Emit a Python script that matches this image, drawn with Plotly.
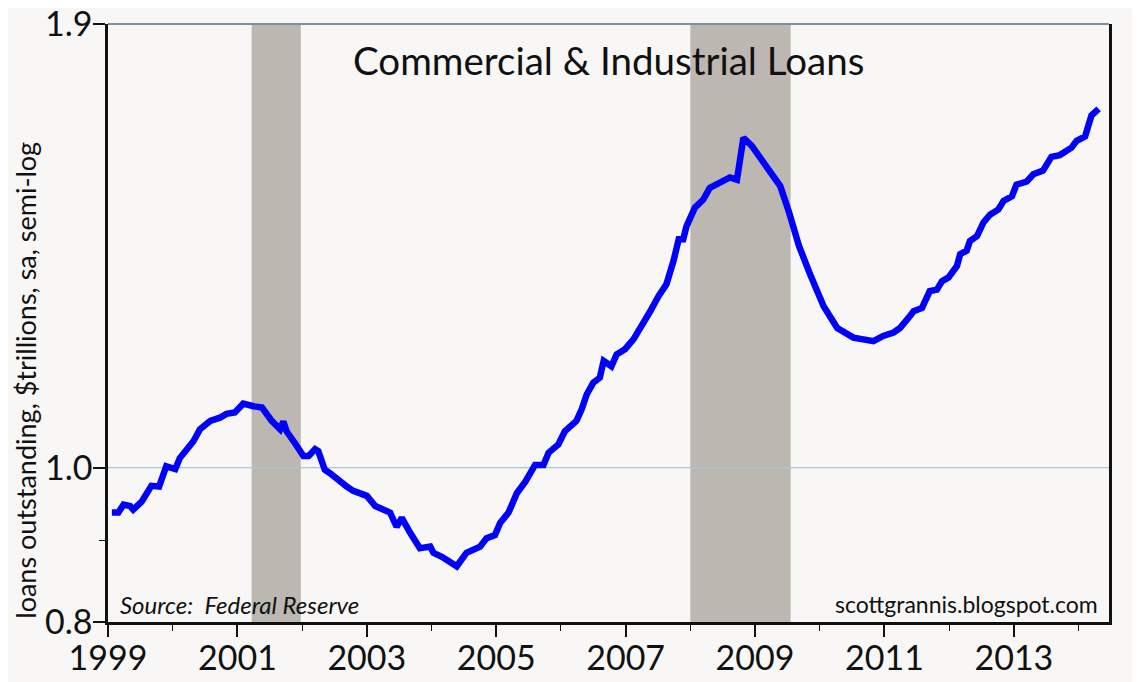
import numpy as np
import plotly.graph_objects as go

# C&I loans outstanding, $ trillions, decimal years
years = [
    1999.06, 1999.16, 1999.24, 1999.34, 1999.39, 1999.52, 1999.67, 1999.79, 1999.90,
    2000.04, 2000.11, 2000.22, 2000.32, 2000.42, 2000.58, 2000.73, 2000.83, 2000.96,
    2001.09, 2001.25, 2001.38, 2001.53, 2001.66, 2001.71, 2001.76, 2001.89,
    2002.02, 2002.10, 2002.20, 2002.25, 2002.35, 2002.43, 2002.53, 2002.69, 2002.79, 2002.92,
    2003.00, 2003.13, 2003.28, 2003.36, 2003.46, 2003.54, 2003.67, 2003.82, 2003.98,
    2004.03, 2004.16, 2004.29, 2004.39, 2004.54, 2004.75, 2004.85, 2004.98,
    2005.06, 2005.19, 2005.32, 2005.45, 2005.60, 2005.73, 2005.81, 2005.96,
    2006.06, 2006.24, 2006.32, 2006.40, 2006.50, 2006.60, 2006.66, 2006.78, 2006.86, 2006.99,
    2007.12, 2007.22, 2007.38, 2007.51, 2007.63, 2007.74, 2007.82, 2007.89, 2007.94,
    2008.07, 2008.20, 2008.30, 2008.46, 2008.61, 2008.72, 2008.82, 2008.95,
    2009.08, 2009.23, 2009.39, 2009.53, 2009.68, 2009.85,
    2010.06, 2010.27, 2010.52, 2010.83, 2010.98,
    2011.14, 2011.24, 2011.37, 2011.45, 2011.58, 2011.70, 2011.81, 2011.89, 2011.99,
    2012.12, 2012.17, 2012.27, 2012.32, 2012.43, 2012.53, 2012.63, 2012.76, 2012.84, 2012.97,
    2013.04, 2013.20, 2013.30, 2013.45, 2013.58, 2013.71, 2013.82, 2013.89, 2013.97,
    2014.10, 2014.20, 2014.31,
]
loans = [
    0.937, 0.937, 0.948, 0.946, 0.941, 0.952, 0.974, 0.973, 1.002,
    0.998, 1.014, 1.026, 1.039, 1.057, 1.070, 1.075, 1.081, 1.083,
    1.097, 1.093, 1.091, 1.070, 1.057, 1.069, 1.054, 1.036,
    1.017, 1.017, 1.027, 1.024, 0.997, 0.992, 0.984, 0.973, 0.967, 0.964,
    0.960, 0.946, 0.941, 0.937, 0.918, 0.930, 0.910, 0.890, 0.892,
    0.884, 0.879, 0.871, 0.867, 0.884, 0.892, 0.903, 0.907,
    0.923, 0.937, 0.964, 0.980, 1.004, 1.004, 1.022, 1.034,
    1.054, 1.070, 1.088, 1.112, 1.131, 1.139, 1.167, 1.158, 1.178, 1.187,
    1.204, 1.221, 1.254, 1.282, 1.304, 1.349, 1.392, 1.392, 1.418,
    1.457, 1.474, 1.499, 1.510, 1.522, 1.517, 1.612, 1.593,
    1.564, 1.537, 1.503, 1.445, 1.378, 1.323,
    1.263, 1.224, 1.207, 1.201, 1.210,
    1.216, 1.224, 1.242, 1.254, 1.260, 1.291, 1.294, 1.310, 1.317,
    1.339, 1.362, 1.369, 1.388, 1.398, 1.426, 1.442, 1.453, 1.471, 1.481,
    1.506, 1.513, 1.529, 1.537, 1.568, 1.572, 1.585, 1.589, 1.605,
    1.615, 1.665, 1.681,
]

# recession periods (start, end)
recessions = [(2001.22, 2001.98), (2008.0, 2009.55)]

y_ticks = [0.8, 1.0, 1.9]
y_minor = [0.9]
x_range = [1999, 2014.47]
y_range = [0.8, 1.9]

FONT = "Lato, 'Noto Sans', sans-serif"
TICK_FONT = "'Liberation Sans Narrow', " + FONT
BG = "#F8F7F5"

fig = go.Figure()

for start, end in recessions:
    fig.add_shape(type="rect", xref="x", yref="paper", x0=start, x1=end, y0=0, y1=1,
                  fillcolor="#BCB8B1", line_width=0, layer="below")

fig.add_hline(y=1.0, line_color="#A8C6DE", line_width=1.2, layer="below")

fig.add_trace(go.Scatter(
    x=years, y=loans, mode="lines",
    line=dict(color="#0000FF", width=6.5),
    showlegend=False,
))

# top frame line (greyish)
fig.add_shape(type="line", xref="paper", yref="paper", x0=0, x1=1, y0=1, y1=1,
              line=dict(color="#7F8E9C", width=2))

fig.add_annotation(text="Commercial & Industrial Loans", xref="paper", yref="paper",
                   x=0.5, y=0.94, showarrow=False, xanchor="center", yanchor="middle",
                   font=dict(family=FONT, size=38.5, color="#111111"))
fig.add_annotation(text="<i>Source:  Federal Reserve</i>", xref="paper", yref="paper",
                   x=0.01, y=0.03, showarrow=False, xanchor="left", yanchor="middle",
                   font=dict(family=FONT, size=24, color="#111111"))
fig.add_annotation(text="scottgrannis.blogspot.com", xref="paper", yref="paper",
                   x=0.991, y=0.03, showarrow=False, xanchor="right", yanchor="middle",
                   font=dict(family=FONT, size=23, color="#111111"))
fig.add_annotation(text="loans outstanding, $trillions, sa, semi-log", xref="paper", yref="paper",
                   x=-0.082, y=0.405, showarrow=False, textangle=-90,
                   xanchor="center", yanchor="middle",
                   font=dict(family=FONT, size=27, color="#111111"))

# the page adds an 8px body margin, so the figure is 8px smaller than the window
fig.update_layout(
    width=1132, height=674,
    paper_bgcolor=BG, plot_bgcolor=BG,
    margin=dict(l=100, r=31, t=16, b=60),
    xaxis=dict(
        range=x_range, tickmode="linear", tick0=1999, dtick=2,
        ticks="outside", ticklen=12, tickwidth=1.5, tickcolor="#111111",
        minor=dict(dtick=1, tick0=1999, ticks="outside", ticklen=6, tickwidth=1.2,
                   tickcolor="#111111"),
        showgrid=False, zeroline=False, automargin=False, ticklabelstandoff=-8,
        ticklabeloverflow="allow",
        showline=True, linecolor="#111111", linewidth=2.5,
        tickfont=dict(family=TICK_FONT, size=34, color="#111111"),
    ),
    yaxis=dict(
        type="log",
        # tiny padding so the end ticks are not dropped by rounding
        range=[np.log10(y_range[0]) - 1e-4, np.log10(y_range[1]) + 1e-4],
        tickmode="array", tickvals=y_ticks, ticktext=[f"{v:.1f}" for v in y_ticks],
        ticks="outside", ticklen=12, tickwidth=1.5, tickcolor="#111111",
        minor=dict(tickmode="array", tickvals=y_minor, ticks="outside", ticklen=6,
                   tickwidth=1.2, tickcolor="#111111"),
        showgrid=False, zeroline=False, automargin=False, ticklabelstandoff=-6,
        ticklabeloverflow="allow",
        showline=True, linecolor="#111111", linewidth=2.5, mirror=True,
        tickfont=dict(family=TICK_FONT, size=34, color="#111111"),
    ),
)

fig.write_html("out.html")
